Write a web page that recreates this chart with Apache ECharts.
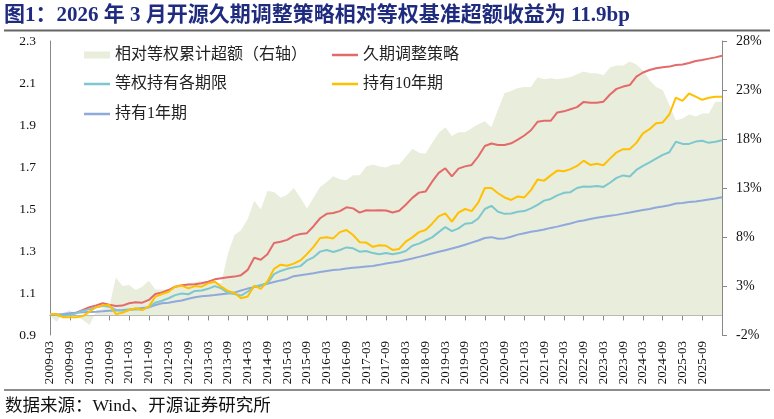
<!DOCTYPE html>
<html><head><meta charset="utf-8">
<script src="https://cdn.jsdelivr.net/npm/echarts@6/dist/echarts.min.js"></script>
<style>html,body{margin:0;padding:0;background:#fff}#c{width:774px;height:419px}</style>
</head><body><div id="c"></div>
<script>
const months = ['2009-03','2009-05','2009-07','2009-09','2009-11',
'2010-01','2010-03','2010-05','2010-07','2010-09','2010-11',
'2011-01','2011-03','2011-05','2011-07','2011-09','2011-11',
'2012-01','2012-03','2012-05','2012-07','2012-09','2012-11',
'2013-01','2013-03','2013-05','2013-07','2013-09','2013-11',
'2014-01','2014-03','2014-05','2014-07','2014-09','2014-11',
'2015-01','2015-03','2015-05','2015-07','2015-09','2015-11',
'2016-01','2016-03','2016-05','2016-07','2016-09','2016-11',
'2017-01','2017-03','2017-05','2017-07','2017-09','2017-11',
'2018-01','2018-03','2018-05','2018-07','2018-09','2018-11',
'2019-01','2019-03','2019-05','2019-07','2019-09','2019-11',
'2020-01','2020-03','2020-05','2020-07','2020-09','2020-11',
'2021-01','2021-03','2021-05','2021-07','2021-09','2021-11',
'2022-01','2022-03','2022-05','2022-07','2022-09','2022-11',
'2023-01','2023-03','2023-05','2023-07','2023-09','2023-11',
'2024-01','2024-03','2024-05','2024-07','2024-09','2024-11',
'2025-01','2025-03','2025-05','2025-07','2025-09','2025-11',
'2026-01','2026-03'];

// 相对等权累计超额（右轴, %）
const excess = [0,-0.65,0.2,0.54,-0.07,-0.48,-0.99,0.37,0.71,0.88,
3.88,2.99,3.10,2.59,2.93,3.54,2.65,2.65,2.65,2.93,
2.99,3.27,3.4,3.5,3.4,3.3,3.3,6.3,8.2,8.7,
9.8,11.7,10.8,12.7,12.6,12.0,12.3,13.0,12.0,10.9,
12.0,13.1,13.6,14.2,13.9,13.8,14.3,14.3,15.2,15.4,
15.2,15.1,15.4,15.4,16.2,17.0,16.6,16.5,17.6,18.6,
19.2,18.3,18.7,18.7,19.1,19.5,19.8,19.2,21.0,22.7,
22.9,23.2,23.3,23.3,24.3,24.1,24.2,24.1,24.2,24.3,
24.6,24.9,24.7,24.7,24.5,25.3,25.5,25.5,25.9,25.6,
25.0,24.0,23.3,23.0,21.5,19.9,20.1,20.5,20.3,20.6,
20.6,21.8,21.8];

// 久期调整策略
const durationAdj = [1.000,0.995,0.990,1.000,1.006,1.019,1.032,1.041,1.051,1.044,
1.038,1.040,1.051,1.056,1.054,1.067,1.095,1.103,1.114,1.130,
1.137,1.140,1.142,1.146,1.154,1.165,1.170,1.175,1.178,1.185,
1.210,1.268,1.258,1.285,1.338,1.344,1.353,1.372,1.381,1.385,
1.418,1.456,1.477,1.481,1.490,1.508,1.503,1.483,1.494,1.493,
1.494,1.493,1.483,1.492,1.520,1.553,1.578,1.583,1.630,1.672,
1.694,1.655,1.692,1.703,1.710,1.750,1.800,1.812,1.805,1.805,
1.813,1.830,1.850,1.875,1.915,1.920,1.920,1.960,1.965,1.975,
1.985,2.010,2.006,2.006,2.011,2.045,2.072,2.083,2.090,2.130,
2.150,2.162,2.170,2.175,2.178,2.186,2.188,2.195,2.205,2.210,
2.216,2.222,2.230];

// 等权持有各期限
const equalWeight = [1.000,0.995,0.990,0.995,1.003,1.016,1.022,1.032,1.038,1.035,
1.019,1.016,1.019,1.022,1.022,1.032,1.054,1.063,1.075,1.090,
1.098,1.094,1.110,1.112,1.120,1.133,1.122,1.100,1.095,1.088,
1.106,1.130,1.138,1.146,1.190,1.205,1.215,1.222,1.228,1.255,
1.270,1.297,1.305,1.295,1.305,1.317,1.313,1.297,1.300,1.290,
1.285,1.290,1.285,1.290,1.300,1.325,1.335,1.350,1.365,1.390,
1.414,1.395,1.408,1.430,1.433,1.455,1.500,1.515,1.487,1.477,
1.479,1.487,1.490,1.503,1.520,1.540,1.548,1.565,1.577,1.580,
1.600,1.607,1.606,1.610,1.605,1.625,1.648,1.660,1.655,1.686,
1.705,1.722,1.740,1.758,1.770,1.820,1.810,1.810,1.821,1.825,
1.815,1.820,1.827];

// 持有10年期
const hold10y = [1.000,1.000,0.984,0.984,0.984,0.990,1.011,1.032,1.041,1.043,
1.000,1.006,1.019,1.027,1.019,1.035,1.083,1.095,1.106,1.130,
1.135,1.122,1.133,1.130,1.146,1.154,1.130,1.110,1.100,1.075,
1.083,1.135,1.120,1.155,1.215,1.235,1.230,1.240,1.255,1.285,
1.320,1.362,1.365,1.360,1.390,1.400,1.376,1.342,1.340,1.320,
1.327,1.325,1.305,1.310,1.345,1.365,1.390,1.400,1.430,1.465,
1.479,1.440,1.483,1.500,1.490,1.530,1.600,1.600,1.575,1.555,
1.543,1.560,1.555,1.590,1.640,1.635,1.660,1.683,1.680,1.690,
1.705,1.730,1.710,1.715,1.708,1.740,1.770,1.785,1.785,1.815,
1.860,1.880,1.908,1.912,1.950,2.030,2.015,2.050,2.035,2.020,
2.030,2.035,2.035];

// 持有1年期
const hold1y = [1.000,0.998,1.000,1.003,1.006,1.008,1.010,1.011,1.013,1.016,
1.017,1.019,1.022,1.025,1.029,1.032,1.043,1.051,1.054,1.059,
1.064,1.073,1.080,1.084,1.087,1.090,1.094,1.098,1.102,1.112,
1.121,1.128,1.135,1.144,1.152,1.160,1.167,1.180,1.185,1.189,
1.194,1.200,1.205,1.209,1.212,1.217,1.220,1.223,1.226,1.229,
1.234,1.240,1.245,1.250,1.257,1.264,1.272,1.280,1.288,1.296,
1.304,1.312,1.320,1.330,1.340,1.350,1.362,1.366,1.358,1.360,
1.368,1.378,1.385,1.392,1.396,1.402,1.410,1.416,1.424,1.431,
1.440,1.445,1.452,1.458,1.463,1.468,1.472,1.478,1.483,1.489,
1.495,1.500,1.507,1.512,1.518,1.526,1.529,1.533,1.536,1.540,
1.545,1.550,1.556];

const leftTicks = {min: 0.9, max: 2.3, interval: 0.2};
const rightTicks = {min: -2, max: 28, interval: 5};

const serif = "'Liberation Serif','Noto Sans CJK SC',serif";
const chart = echarts.init(document.getElementById('c'));
const showIdx = (i) => i % 3 === 0 && i < months.length - 1;

const legendText = {fontSize: 16, fontFamily: serif, color: '#222', lineHeight: 16};
function mkLegend(name, left, top, h) {
  return {left: left, top: top, padding: 0, itemWidth: 26, itemHeight: h, itemGap: 4,
    textStyle: legendText, data: [{name: name, icon: 'rect'}]};
}

chart.setOption({
  animation: false,
  backgroundColor: '#fff',
  title: {
    text: '图1：2026 年 3 月开源久期调整策略相对等权基准超额收益为 11.9bp',
    left: 4, top: 5, padding: 0,
    textStyle: {color: '#1F2B7E', fontSize: 21, fontWeight: 'bold', fontFamily: serif}
  },
  graphic: [
    {type: 'line', shape: {x1: 4, y1: 30.5, x2: 770, y2: 30.5}, style: {stroke: '#666', lineWidth: 2}},
    {type: 'line', shape: {x1: 4, y1: 390, x2: 770, y2: 390}, style: {stroke: '#666', lineWidth: 1.5}},
    {type: 'text', left: 5, top: 398, style: {text: '数据来源：Wind、开源证券研究所', fontSize: 17.5, fontFamily: serif, fill: '#111'}}
  ],
  grid: {left: 50, right: 52, top: 41, bottom: 84},
  legend: [
    mkLegend('相对等权累计超额（右轴）', 84, 47, 7),
    mkLegend('等权持有各期限', 84, 76, 2.5),
    mkLegend('持有1年期', 84, 106, 2.5),
    mkLegend('久期调整策略', 332, 47, 2.5),
    mkLegend('持有10年期', 332, 76, 2.5)
  ],
  xAxis: {
    type: 'category', data: months, boundaryGap: false,
    axisLine: {lineStyle: {color: '#888'}},
    axisTick: {interval: showIdx, length: 5, lineStyle: {color: '#888'}},
    axisLabel: {interval: showIdx, rotate: 90, fontSize: 13, fontFamily: serif, color: '#111', margin: 6}
  },
  yAxis: [
    {type: 'value', min: leftTicks.min, max: leftTicks.max, interval: leftTicks.interval,
     splitLine: {show: false},
     axisLine: {show: true, lineStyle: {color: '#888'}}, axisTick: {show: false},
     axisLabel: {fontSize: 13.5, fontFamily: serif, color: '#111', margin: 14,
       formatter: v => v.toFixed(1)}},
    {type: 'value', position: 'right', min: rightTicks.min, max: rightTicks.max, interval: rightTicks.interval,
     splitLine: {show: false},
     axisLine: {show: true, lineStyle: {color: '#888'}},
     axisTick: {show: true, length: 5, lineStyle: {color: '#888'}},
     axisLabel: {fontSize: 14, fontFamily: serif, color: '#111', margin: 14, formatter: '{value}%'}}
  ],
  series: [
    {name: '相对等权累计超额（右轴）', type: 'line', yAxisIndex: 1, data: excess, symbol: 'none',
     itemStyle: {color: '#E9EDDC'}, lineStyle: {width: 0}, areaStyle: {color: '#E9EDDC', opacity: 1}, z: 1},
    {name: '久期调整策略', type: 'line', data: durationAdj, symbol: 'none',
     itemStyle: {color: '#E46A6A'}, lineStyle: {width: 2, color: '#E46A6A'}, z: 3},
    {name: '持有1年期', type: 'line', data: hold1y, symbol: 'none',
     itemStyle: {color: '#8FA9DC'}, lineStyle: {width: 2, color: '#8FA9DC'}, z: 3},
    {name: '等权持有各期限', type: 'line', data: equalWeight, symbol: 'none',
     itemStyle: {color: '#7DC7CE'}, lineStyle: {width: 2, color: '#7DC7CE'}, z: 3},
    {name: '持有10年期', type: 'line', data: hold10y, symbol: 'none',
     itemStyle: {color: '#FFC000'}, lineStyle: {width: 2, color: '#FFC000'}, z: 3}
  ]
});
</script></body></html>
